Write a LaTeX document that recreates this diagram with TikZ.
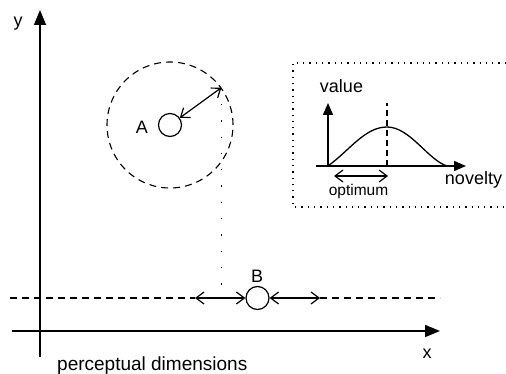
\documentclass[tikz,border=0pt]{standalone}
\usepackage{fontspec}
\setmainfont{Liberation Sans}
\usetikzlibrary{arrows.meta}
\begin{document}
\begin{tikzpicture}[x=1pt,y=-1pt,
  lab/.style={font=\fontsize{18}{21}\selectfont, inner sep=0pt, anchor=base},
  blab/.style={font=\fontsize{19}{22}\selectfont, inner sep=0pt},
  slab/.style={font=\fontsize{15.5}{18}\selectfont, inner sep=0pt, anchor=base},
  axis/.style={line width=1.5pt, -{Triangle[length=15pt,width=12pt]}},
  iaxis/.style={line width=1.5pt, -{Triangle[length=12pt,width=10pt]}},
  dbl/.style={line width=1.2pt, {Straight Barb[length=8pt,width=12pt]}-{Straight Barb[length=8pt,width=12pt]}},
  ring/.style={circle, draw, line width=1.2pt, inner sep=0pt, minimum size=23pt},
  dashline/.style={line width=1.1pt, dash pattern=on 7pt off 5pt},
  dotline/.style={line width=1.3pt, dash pattern=on 1.3pt off 15pt},
  boxline/.style={line width=1.3pt, dash pattern=on 1.3pt off 5pt},
]
\useasboundingbox (0,0) rectangle (506,374);

% axes
\coordinate (ybot) at (40,357);
\coordinate (ytop) at (40,10);
\coordinate (xleft) at (12,331);
\coordinate (xright) at (440,331);
\draw[axis] (ybot) -- (ytop);
\draw[axis] (xleft) -- (xright);
\node[lab] (ylab) at (18,27) {y};
\node[lab] (xlab) at (427,358) {x};
\node[blab, anchor=base west] (pd) at (57,370) {perceptual dimensions};

% A and its radius
\node[ring] (A) at (170,125) {};
\node[circle, draw, dashline, inner sep=0pt, minimum size=126pt] (R) at (170,125) {};
\node[lab] (Alab) at (142,134) {A};
\coordinate (P) at (R.36);
\draw[dbl] (A.36) -- (P);

% B on the dashed line
\node[ring] (B) at (257.5,298) {};
\node[lab] (Blab) at (257,282) {B};
\coordinate (L1) at (10,298);
\coordinate (L2) at (195,298);
\coordinate (R2) at (320,298);
\coordinate (R3) at (440,298);
\draw[dashline] (L1) -- (L2);
\draw[dashline] (R2) -- (R3);
\draw[dbl] (L2) -- (B.west);
\draw[dbl] (B.east) -- (R2);
\draw[dotline] (P) -- (P |- B);

% inset
\draw[boxline] (506,63) -- (293,63) -- (293,207) -- (506,207);
\coordinate (io) at (328,166);
\coordinate (ixl) at (316,166);
\coordinate (ixr) at (466,166);
\coordinate (iyt) at (328,103);
\draw[iaxis] (ixl) -- (ixr);
\draw[iaxis] (io) -- (iyt);
\coordinate (pk) at (387,127);
\coordinate (ce) at (447,166);
\draw[line width=1.3pt] (io) .. controls (350,150) and (365,127) .. (pk)
  .. controls (410,127) and (428,160) .. (ce);
\coordinate (dt) at (387,103);
\coordinate (db) at (387,166);
\draw[line width=1.2pt, dash pattern=on 6pt off 4pt] (db) -- (dt);
\coordinate (o1) at (334,176);
\coordinate (o2) at (388,176);
\draw[dbl] (o1) -- (o2);
\node[lab] (val) at (341.5,93) {value};
\node[lab] (nov) at (473.5,185) {novelty};
\node[slab] (opt) at (358.5,196) {optimum};
\end{tikzpicture}
\end{document}
